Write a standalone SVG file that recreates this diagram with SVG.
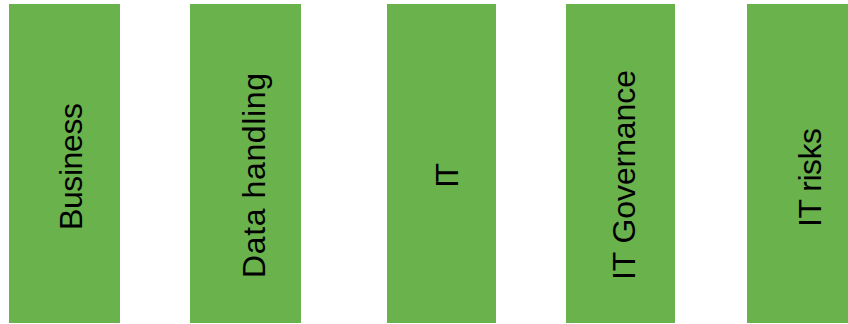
<svg xmlns="http://www.w3.org/2000/svg" width="848" height="324" viewBox="0 0 848 324">
<style>
.box{fill:#6AB24B}
.lbl{font-family:"Liberation Sans",Arial,sans-serif;font-size:32px;fill:#000;text-anchor:middle}
</style>
<rect width="848" height="324" fill="#fff"/>
<g id="business">
<rect class="box" x="9" y="4" width="111" height="319"/>
<text class="lbl" transform="translate(82,166.5) rotate(-90)" textLength="127">Business</text>
</g>
<g id="data-handling">
<rect class="box" x="190" y="4" width="111" height="319"/>
<text class="lbl" transform="translate(265,175.5) rotate(-90)" textLength="205">Data handling</text>
</g>
<g id="it">
<rect class="box" x="387" y="4" width="109" height="319"/>
<text class="lbl" transform="translate(458,175.5) rotate(-90)" textLength="25">IT</text>
</g>
<g id="it-governance">
<rect class="box" x="566" y="4" width="109" height="319"/>
<text class="lbl" transform="translate(635,175) rotate(-90)" textLength="210">IT Governance</text>
</g>
<g id="it-risks">
<rect class="box" x="747" y="4" width="101" height="319"/>
<text class="lbl" transform="translate(821,177.5) rotate(-90)" textLength="99">IT risks</text>
</g>
<g id="connectors"></g>
</svg>
